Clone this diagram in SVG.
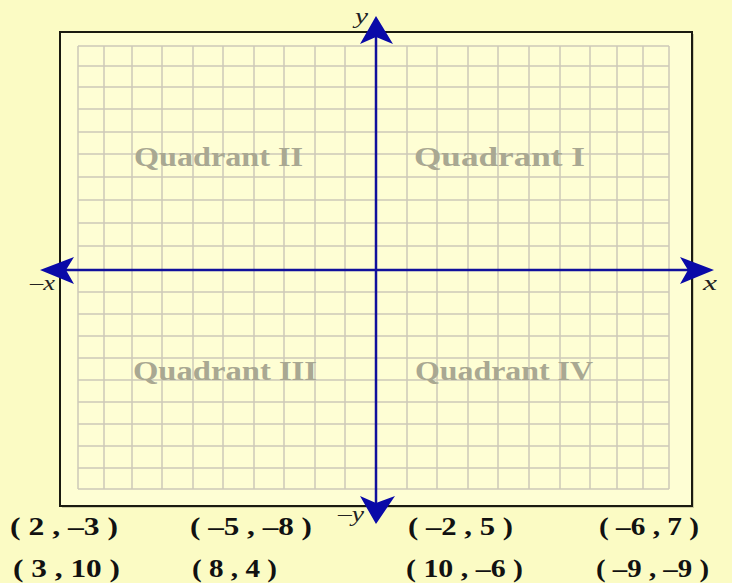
<svg xmlns="http://www.w3.org/2000/svg" width="732" height="583" viewBox="0 0 732 583">
<style>
.grid line{stroke:#ccc8b8;stroke-width:1.5}
.axis{stroke:#10109c;stroke-width:2.5}
.arrow{fill:#0a0aa8}
.q{font-family:"Liberation Serif","Times New Roman",serif;font-weight:bold;font-size:27px;fill:#a9a892}
.lbl{font-family:"Liberation Serif","Times New Roman",serif;font-style:italic;font-size:22px;fill:#222}
.pt{font-family:"Liberation Serif","Times New Roman",serif;font-weight:bold;font-size:26px;fill:#111}
</style>
<rect width="732" height="583" fill="#fbfbc4"/>
<g id="frame">
<rect x="62" y="34" width="632" height="474" fill="#7a7a60" opacity="0.35"/>
<rect x="60" y="32" width="632" height="474" fill="#fefed4" stroke="#1a1a10" stroke-width="2"/>
</g>
<g id="grid" class="grid">
<line x1="78" y1="46" x2="78" y2="489"/>
<line x1="104" y1="46" x2="104" y2="489"/>
<line x1="132" y1="46" x2="132" y2="489"/>
<line x1="162" y1="46" x2="162" y2="489"/>
<line x1="193" y1="46" x2="193" y2="489"/>
<line x1="223" y1="46" x2="223" y2="489"/>
<line x1="254" y1="46" x2="254" y2="489"/>
<line x1="284" y1="46" x2="284" y2="489"/>
<line x1="315" y1="46" x2="315" y2="489"/>
<line x1="345" y1="46" x2="345" y2="489"/>
<line x1="407" y1="46" x2="407" y2="489"/>
<line x1="437" y1="46" x2="437" y2="489"/>
<line x1="468" y1="46" x2="468" y2="489"/>
<line x1="498" y1="46" x2="498" y2="489"/>
<line x1="529" y1="46" x2="529" y2="489"/>
<line x1="560" y1="46" x2="560" y2="489"/>
<line x1="590" y1="46" x2="590" y2="489"/>
<line x1="617" y1="46" x2="617" y2="489"/>
<line x1="643" y1="46" x2="643" y2="489"/>
<line x1="669" y1="46" x2="669" y2="489"/>
<line x1="78" y1="46" x2="669" y2="46"/>
<line x1="78" y1="66" x2="669" y2="66"/>
<line x1="78" y1="87" x2="669" y2="87"/>
<line x1="78" y1="109" x2="669" y2="109"/>
<line x1="78" y1="132" x2="669" y2="132"/>
<line x1="78" y1="154" x2="669" y2="154"/>
<line x1="78" y1="177" x2="669" y2="177"/>
<line x1="78" y1="200" x2="669" y2="200"/>
<line x1="78" y1="223" x2="669" y2="223"/>
<line x1="78" y1="246" x2="669" y2="246"/>
<line x1="78" y1="292" x2="669" y2="292"/>
<line x1="78" y1="314" x2="669" y2="314"/>
<line x1="78" y1="336" x2="669" y2="336"/>
<line x1="78" y1="358" x2="669" y2="358"/>
<line x1="78" y1="380" x2="669" y2="380"/>
<line x1="78" y1="402" x2="669" y2="402"/>
<line x1="78" y1="424" x2="669" y2="424"/>
<line x1="78" y1="446" x2="669" y2="446"/>
<line x1="78" y1="468" x2="669" y2="468"/>
<line x1="78" y1="489" x2="669" y2="489"/>
</g>
<g id="quadrants">
<text class="q" x="134" y="166" textLength="169" lengthAdjust="spacingAndGlyphs">Quadrant II</text>
<text class="q" x="414" y="166" textLength="171" lengthAdjust="spacingAndGlyphs">Quadrant I</text>
<text class="q" x="133" y="380" textLength="184" lengthAdjust="spacingAndGlyphs">Quadrant III</text>
<text class="q" x="415" y="380" textLength="178" lengthAdjust="spacingAndGlyphs">Quadrant IV</text>
</g>
<g id="axes">
<line class="axis" x1="60" y1="270" x2="695" y2="270"/>
<line class="axis" x1="376" y1="36" x2="376" y2="505"/>
<path class="arrow" d="M714,270 L680,257 L688,270 L680,284 Z"/>
<path class="arrow" d="M40,270 L74,257 L66,270 L74,284 Z"/>
<path class="arrow" d="M376,16 L360,44 L376,37 L393,44 Z"/>
<path class="arrow" d="M376,524 L360,496 L376,503 L395,496 Z"/>
</g>
<g id="axis-labels">
<text class="lbl" x="355" y="23" textLength="13" lengthAdjust="spacingAndGlyphs">y</text>
<text class="lbl" x="30" y="290" textLength="25" lengthAdjust="spacingAndGlyphs">–x</text>
<text class="lbl" x="703" y="290" textLength="14" lengthAdjust="spacingAndGlyphs">x</text>
<text class="lbl" x="338" y="521" textLength="26" lengthAdjust="spacingAndGlyphs">–y</text>
</g>
<g id="points">
<text class="pt" x="10" y="535" textLength="108" lengthAdjust="spacingAndGlyphs">( 2 , –3 )</text>
<text class="pt" x="190" y="535" textLength="122" lengthAdjust="spacingAndGlyphs">( –5 , –8 )</text>
<text class="pt" x="408" y="535" textLength="105" lengthAdjust="spacingAndGlyphs">( –2 , 5 )</text>
<text class="pt" x="599" y="535" textLength="100" lengthAdjust="spacingAndGlyphs">( –6 , 7 )</text>
<text class="pt" x="13" y="577" textLength="107" lengthAdjust="spacingAndGlyphs">( 3 , 10 )</text>
<text class="pt" x="192" y="577" textLength="85" lengthAdjust="spacingAndGlyphs">( 8 , 4 )</text>
<text class="pt" x="406" y="577" textLength="117" lengthAdjust="spacingAndGlyphs">( 10 , –6 )</text>
<text class="pt" x="596" y="577" textLength="113" lengthAdjust="spacingAndGlyphs">( –9 , –9 )</text>
</g>
</svg>
